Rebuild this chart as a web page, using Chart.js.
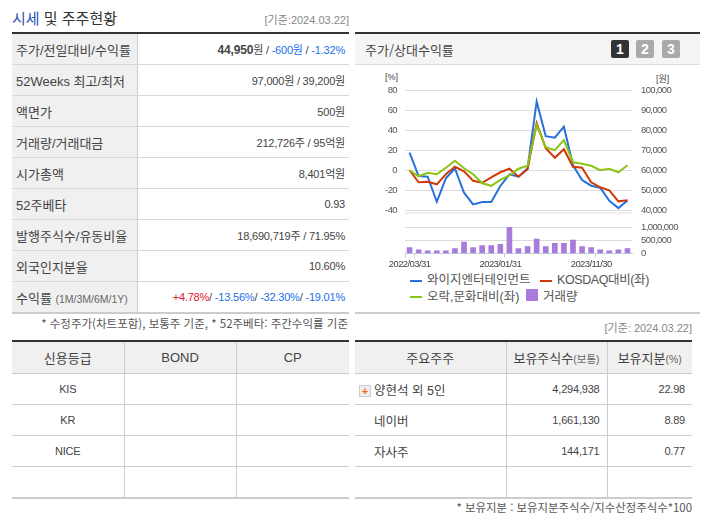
<!DOCTYPE html>
<html lang="ko">
<head>
<meta charset="utf-8">
<script src="https://cdn.jsdelivr.net/npm/chart.js@4"></script>
<style>
  html, body { margin: 0; padding: 0; background: #fff; }
  body { width: 702px; height: 525px; position: relative; overflow: hidden; color: #444;
    font-family: "Liberation Sans", "Noto Sans CJK KR", sans-serif; font-size: 11px; }
  .abs { position: absolute; white-space: nowrap; }
  .ko { font-family: "Noto Sans CJK KR", sans-serif; }
  table { position: absolute; border-collapse: collapse; table-layout: fixed; font-size: 11px; letter-spacing: -0.2px; }
  td, th { padding: 0; font-weight: normal; white-space: nowrap; overflow: hidden; }
  #priceTable { left: 12px; top: 32px; width: 337px; border-top: 2px solid #333; border-bottom: 2px solid #ccc; }
  #priceTable td { height: 30px; border-bottom: 1px solid #d8d8d8; }
  #priceTable td:first-child { width: 125px; padding-left: 4px; background: #f0f0f0; border-right: 1px solid #ccc; font-size: 13px; letter-spacing: 0; color: #444; box-sizing: border-box; }
  #priceTable td:last-child { text-align: right; padding-right: 4px; }
  #priceTable b { font-size: 12px; }
  .small { font-size: 10.5px; color: #666; letter-spacing: 0; }
  .blue { color: #1a6fe8; }
  .red { color: #e0202c; }
  .grid { top: 340px; border-top: 2px solid #333; border-bottom: 2px solid #ccc; }
  .grid th { height: 31px; background: #f0f0f0; border-bottom: 1px solid #ccc; border-right: 1px solid #ccc; font-size: 13px; letter-spacing: 0; color: #444; }
  .grid td { height: 31px; box-sizing: border-box; border-bottom: 1px solid #ccc; border-right: 1px solid #ccc; }
  .grid th:last-child, .grid td:last-child { border-right: 0; }
  .grid tr:last-child td { border-bottom: 0; }
  #ratingTable { left: 12px; width: 337px; }
  #ratingTable td { text-align: center; }
  #holderTable { left: 355px; width: 337px; }
  #holderTable td { text-align: right; padding-right: 7px; }
  #holderTable td:first-child { text-align: left; padding: 0 0 0 19px; font-size: 12.5px; letter-spacing: 0; }
  .plus { position: absolute; left: 359px; top: 385px; width: 10px; height: 10px; background: #eee; border: 1px solid #ccc; color: #f60; font: bold 11px/10px "Liberation Sans"; text-align: center; }
  #panelHead { position: absolute; left: 355px; top: 32px; width: 345px; height: 30px; border-top: 2px solid #333; border-bottom: 1px solid #ddd; background: #f5f5f5; }
  .btn { position: absolute; top: 40px; width: 18px; height: 18px; background: #aaa; color: #fff; font: bold 14px/18px "Liberation Sans"; text-align: center; border-radius: 2px; }
  #panelBottom { position: absolute; left: 355px; top: 312px; width: 345px; border-top: 2px solid #ccc; }
  canvas { position: absolute; left: 355px; }
  .swatch { position: absolute; height: 2px; width: 12px; }
  .legendText { position: absolute; font-size: 12.5px; line-height: 14px; color: #555; white-space: nowrap; }
</style>
</head>
<body>

<div class="abs ko" style="left:12px;top:7px;font-size:15px;color:#333"><span style="color:#2c52b8">시세</span> 및 주주현황</div>
<div class="abs" style="right:353px;top:11px;color:#888;font-size:11px">[기준:2024.03.22]</div>
<table id="priceTable"><tbody></tbody></table>
<div class="abs ko" style="right:354px;top:315px;font-size:11.5px;color:#555">* 수정주가(차트포함), 보통주 기준, * 52주베타: 주간수익률 기준</div>

<table id="ratingTable" class="grid"><colgroup><col style="width:112px"><col style="width:112px"><col></colgroup><thead></thead><tbody></tbody></table>

<div id="panelHead"></div>
<div class="abs ko" style="left:365px;top:40px;font-size:13px;color:#444">주가/상대수익률</div>
<div class="btn" style="left:611px;background:#333">1</div>
<div class="btn" style="left:636px">2</div>
<div class="btn" style="left:662px">3</div>
<div class="abs" style="left:385px;top:72px;font-size:9px;color:#444">[%]</div>
<div class="abs" style="left:656px;top:72px;font-size:9px;color:#444">[원]</div>
<canvas id="lineChart" width="345" height="150" style="top:70px"></canvas>
<canvas id="volumeChart" width="345" height="50" style="top:221px"></canvas>
<div id="legend"></div>
<div id="panelBottom"></div>
<div class="abs" style="right:10px;top:319px;color:#888;font-size:11px">[기준: 2024.03.22]</div>

<table id="holderTable" class="grid"><colgroup><col style="width:151px"><col style="width:101px"><col></colgroup><thead></thead><tbody></tbody></table>
<div class="plus">+</div>
<div class="abs ko" style="right:10px;top:499px;font-size:11.4px;color:#555">* 보유지분 : 보유지분주식수/지수산정주식수*100</div>

<script>
// chart data
const months = ['2022/03/31', '2022/04/30', '2022/05/31', '2022/06/30', '2022/07/31', '2022/08/31', '2022/09/30',
  '2022/10/31', '2022/11/30', '2022/12/31', '2023/01/31', '2023/02/28', '2023/03/31', '2023/04/30', '2023/05/31',
  '2023/06/30', '2023/07/31', '2023/08/31', '2023/09/30', '2023/10/31', '2023/11/30', '2023/12/31', '2024/01/31',
  '2024/02/29', '2024/03/22'];
const priceWon = [68750, 57100, 56800, 44300, 56000, 60900, 48800, 43000, 44150, 44150, 52150, 58000, 56800,
  61000, 94200, 77000, 76200, 81700, 62500, 55100, 52300, 51300, 44800, 41150, 44950];
const kosdaqPct = [0, -12, -11.5, -14, -4, 3.5, -1, -10.5, -12.5, -7, -2, 1.5, -6.5, 1, 47, 22, 12.5, 21, 3.5, 2.5,
  -12, -17, -20, -31, -30];
const mediaPct = [0, -6, -2.5, -4, 2.5, 9.5, 2, -4, -13, -15.5, -9.5, -5, 1.5, 4.5, 45, 23, 20, 30, 8, 6.5, 4.5, 0,
  1.5, -2, 5];
const volumes = [225000, 145000, 105000, 105000, 105000, 185000, 430000, 225000, 305000, 305000, 345000, 1000000,
  185000, 265000, 545000, 265000, 385000, 385000, 505000, 265000, 225000, 145000, 105000, 145000, 185000];
const pctTicks = [-40, -20, 0, 20, 40, 60, 80];
const wonTicks = [40000, 50000, 60000, 70000, 80000, 90000, 100000];
const labelledMonths = [0, 10, 20];
const seriesNames = ['와이지엔터테인먼트', 'KOSDAQ대비(좌)', '오락,문화대비(좌)', '거래량'];

// table contents
const priceRows = [
  ['주가/전일대비/수익률', '<b>44,950</b>원 / <span class="blue">-600원</span> / <span class="blue">-1.32%</span>'],
  ['52Weeks 최고/최저', '97,000원 / 39,200원'],
  ['액면가', '500원'],
  ['거래량/거래대금', '212,726주 / 95억원'],
  ['시가총액', '8,401억원'],
  ['52주베타', '0.93'],
  ['발행주식수/유동비율', '18,690,719주 / 71.95%'],
  ['외국인지분율', '10.60%'],
  ['수익률 <span class="small">(1M/3M/6M/1Y)</span>', '<span class="red">+4.78%</span>/ <span class="blue">-13.56%</span>/ <span class="blue">-32.30%</span>/ <span class="blue">-19.01%</span>'],
];
const ratingHead = ['신용등급', 'BOND', 'CP'];
const ratingRows = [['KIS', '', ''], ['KR', '', ''], ['NICE', '', ''], ['', '', '']];
const holderHead = ['주요주주', '보유주식수<span class="small">(보통)</span>', '보유지분<span class="small">(%)</span>'];
const holderRows = [['양현석 외 5인', '4,294,938', '22.98'], ['네이버', '1,661,130', '8.89'],
  ['자사주', '144,171', '0.77'], ['', '', '']];

const fillRows = (sel, rows) => {
  document.querySelector(sel).innerHTML = rows
    .map((r) => '<tr>' + r.map((c) => '<td>' + c + '</td>').join('') + '</tr>').join('');
};
const fillHead = (sel, cells) => {
  document.querySelector(sel).innerHTML = '<tr>' + cells.map((c) => '<th>' + c + '</th>').join('') + '</tr>';
};
fillRows('#priceTable tbody', priceRows);
fillHead('#ratingTable thead', ratingHead);
fillRows('#ratingTable tbody', ratingRows);
fillHead('#holderTable thead', holderHead);
fillRows('#holderTable tbody', holderRows);

const BLUE = '#2a70dc';
const RED = '#cf3a08';
const GREEN = '#8cc412';
const PURPLE = '#a87bdc';
const GRID = '#dcdcdc';
const TICK_FONT = { family: '"Liberation Sans"', size: 9.5 };

// legend next to the chart
const legendItems = [
  { text: seriesNames[0], color: BLUE, x: 410, y: 280, tx: 427, ty: 273, ls: 0 },
  { text: seriesNames[1], color: RED, x: 540, y: 280, tx: 557, ty: 273, ls: -0.4 },
  { text: seriesNames[2], color: GREEN, x: 410, y: 296, tx: 427, ty: 290, ls: 0 },
];
const legend = document.getElementById('legend');
legendItems.forEach((it) => {
  legend.insertAdjacentHTML('beforeend',
    `<div class="swatch" style="left:${it.x}px;top:${it.y}px;background:${it.color}"></div>` +
    `<div class="legendText" style="left:${it.tx}px;top:${it.ty}px;letter-spacing:${it.ls}px">${it.text}</div>`);
});
legend.insertAdjacentHTML('beforeend',
  `<div class="swatch" style="left:526px;top:289px;height:12px;background:${PURPLE}"></div>` +
  `<div class="legendText" style="left:543px;top:290px">${seriesNames[3]}</div>`);

// the scale adds tick padding to its vertical padding, which would squeeze the plot
const fixAxis = (width) => (s) => {
  s.width = width;
  s.paddingTop = 0;
  s.paddingBottom = 0;
};
// tick labels in the reference are narrower than any installed font
const tightText = {
  id: 'tightText',
  beforeDraw(chart) { chart.ctx.letterSpacing = '-0.6px'; },
};

new Chart(document.getElementById('lineChart'), {
  type: 'line',
  data: {
    labels: months,
    datasets: [
      { label: seriesNames[2], data: mediaPct, borderColor: GREEN, yAxisID: 'y' },
      { label: seriesNames[1], data: kosdaqPct, borderColor: RED, yAxisID: 'y' },
      { label: seriesNames[0], data: priceWon, borderColor: BLUE, yAxisID: 'y1' },
    ],
  },
  options: {
    responsive: false,
    animation: false,
    devicePixelRatio: 1,
    layout: { padding: { top: 20, bottom: 7 } },
    elements: { point: { radius: 0 }, line: { borderWidth: 2, tension: 0 } },
    plugins: { legend: { display: false }, tooltip: { enabled: false } },
    scales: {
      x: { display: false, offset: true },
      y: {
        position: 'left',
        min: -42.6,
        max: 80,
        afterBuildTicks: (s) => { s.ticks = pctTicks.map((v) => ({ value: v })); },
        afterFit: fixAxis(50),
        border: { display: false },
        grid: { color: GRID, drawTicks: false, lineWidth: 1 },
        ticks: { color: '#555', font: TICK_FONT, padding: 8 },
      },
      y1: {
        position: 'right',
        min: 38700,
        max: 100000,
        afterBuildTicks: (s) => { s.ticks = wonTicks.map((v) => ({ value: v })); },
        afterFit: fixAxis(68),
        border: { display: false },
        grid: { display: false, drawTicks: false },
        ticks: { color: '#555', font: TICK_FONT, padding: 9, callback: (v) => v.toLocaleString('en-US') },
      },
    },
  },
  plugins: [tightText, {
    // closing line under the price pane, below the -40 tick
    id: 'paneBottom',
    afterDatasetsDraw(chart) {
      const { ctx, chartArea } = chart;
      ctx.save();
      ctx.strokeStyle = GRID;
      ctx.beginPath();
      ctx.moveTo(chartArea.left, chartArea.bottom);
      ctx.lineTo(chartArea.right, chartArea.bottom);
      ctx.stroke();
      ctx.restore();
    },
  }],
});

new Chart(document.getElementById('volumeChart'), {
  type: 'bar',
  data: {
    labels: months,
    datasets: [{ label: seriesNames[3], data: volumes, backgroundColor: PURPLE, barThickness: 5 }],
  },
  options: {
    responsive: false,
    animation: false,
    devicePixelRatio: 1,
    layout: { padding: { top: 6, left: 50 } },
    plugins: { legend: { display: false }, tooltip: { enabled: false } },
    scales: {
      x: {
        offset: true,
        border: { color: '#c0d0e0' },
        grid: {
          offset: true,
          drawOnChartArea: false,
          tickLength: 4,
          tickColor: (c) => ([0, 1, 11, 21].includes(c.index) ? '#c0d0e0' : 'rgba(0,0,0,0)'),
        },
        ticks: {
          autoSkip: false,
          maxRotation: 0,
          padding: 1,
          color: '#444',
          font: TICK_FONT,
          callback: (v, i) => (labelledMonths.includes(i) ? months[i] : ''),
        },
      },
      y: {
        position: 'right',
        min: 0,
        max: 1000000,
        afterFit: fixAxis(68),
        border: { display: false },
        grid: { color: GRID, drawTicks: false },
        ticks: { autoSkip: false, stepSize: 500000, color: '#555', font: TICK_FONT, padding: 9, callback: (v) => v.toLocaleString('en-US') },
      },
    },
  },
  plugins: [tightText],
});
</script>
</body>
</html>
